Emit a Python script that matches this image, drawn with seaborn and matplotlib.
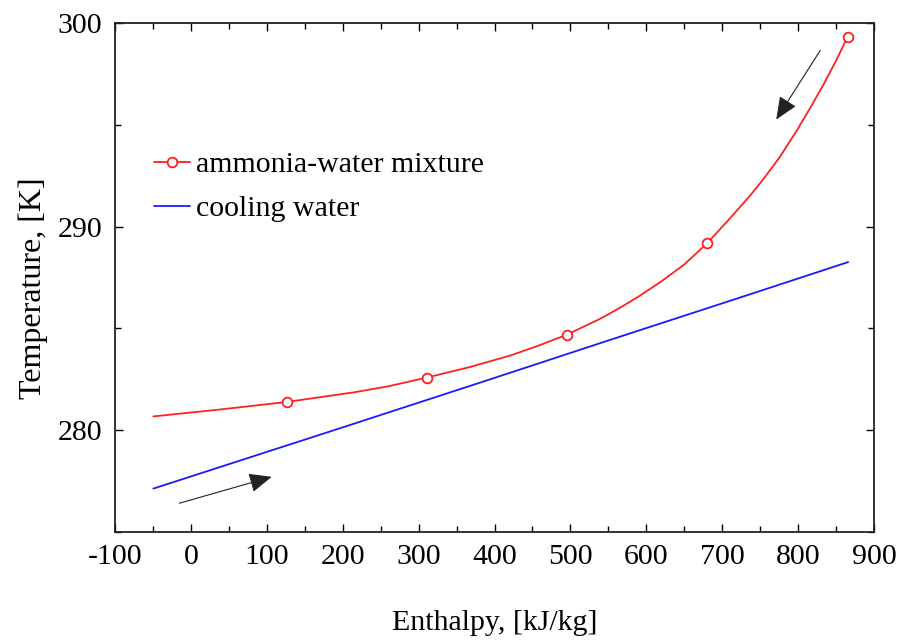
import matplotlib
matplotlib.use("Agg")
import matplotlib.pyplot as plt
import seaborn as sns
import pandas as pd

# ---- data ----
mix_h = [-49.5, 38.4, 126.3, 214.1, 260.0, 310.8, 365.7, 420.6, 457.9, 495.3,
         539.2, 565.6, 590.0, 618.3, 650.0, 680.3, 710.0, 737.0, 754.5, 776.0,
         798.5, 816.0, 833.6, 850.0, 865.2]
mix_t = [280.67, 281.01, 281.38, 281.85, 282.15, 282.58, 283.08, 283.66, 284.15, 284.69,
         285.47, 286.02, 286.57, 287.27, 288.14, 289.19, 290.40, 291.54, 292.35, 293.43,
         294.74, 295.84, 297.00, 298.16, 299.34]
mix_marker_idx = [2, 5, 9, 15, 24]

water_h = [-49.5, 196.6, 389.9, 548.0, 737.0, 866.0]
water_t = [277.12, 280.09, 282.44, 284.38, 286.68, 288.26]

labels = ["ammonia-water mixture", "cooling water"]
x_ticks = [-100, 0, 100, 200, 300, 400, 500, 600, 700, 800, 900]
y_ticks = [280, 290, 300]

# arrows (tail -> head) in data coordinates
arrow_water = ((-15.3, 276.40), (106.5, 277.70))
arrow_mix = ((829.2, 298.67), (771.2, 295.27))

# ---- plotting ----
sns.set_theme(style="ticks")
plt.rcParams["font.family"] = ["Liberation Serif", "DejaVu Serif"]
plt.rcParams["text.color"] = "black"
plt.rcParams["axes.labelcolor"] = "black"

fig = plt.figure(figsize=(9, 6.41), dpi=100)
ax = fig.add_axes([0.1278, 0.1705, 0.9711 - 0.1278, 0.9636 - 0.1705])

df_mix = pd.DataFrame({"H": mix_h, "T": mix_t})
df_w = pd.DataFrame({"H": water_h, "T": water_t})

sns.lineplot(data=df_mix, x="H", y="T", ax=ax, color="#ff2020", lw=1.3,
             marker="o", markevery=mix_marker_idx, markersize=7,
             markerfacecolor="white", markeredgecolor="#ff2020",
             markeredgewidth=1.3, label=labels[0], sort=False)
sns.lineplot(data=df_w, x="H", y="T", ax=ax, color="#1a1aff", lw=1.3,
             label=labels[1], sort=False)

for (tail, head) in (arrow_water, arrow_mix):
    ax.annotate("", xy=head, xytext=tail,
                arrowprops=dict(arrowstyle="-|>,head_length=1.4,head_width=0.6",
                                color="#222222", lw=0.8, shrinkA=0, shrinkB=0,
                                mutation_scale=10))

ax.set_xlim(-100, 900)
ax.set_ylim(275, 300)
ax.set_xticks(x_ticks)
ax.set_xticklabels([str(v) for v in x_ticks])
ax.set_yticks(y_ticks)
ax.set_yticklabels([str(v) for v in y_ticks])
ax.set_xticks([v + 50 for v in x_ticks[:-1]], minor=True)
ax.set_yticks([275, 285, 295], minor=True)

fs = 21.5
ax.tick_params(which="both", direction="in", top=True, right=True,
               labelsize=fs, colors="black", pad=9)
ax.tick_params(which="major", length=6, width=1.0)
ax.tick_params(which="minor", length=4, width=1.0)
for s in ax.spines.values():
    s.set_color("#222222")
    s.set_linewidth(1.3)

ax.set_xlabel("Enthalpy, [kJ/kg]", fontsize=fs, labelpad=29, color="black")
ax.set_ylabel("Temperature, [K]", fontsize=23, color="black")
ax.yaxis.set_label_coords(-0.088, 0.48)

leg = ax.legend(loc="upper left", bbox_to_anchor=(0.036, 0.772), frameon=False,
                fontsize=fs, handlelength=1.2, handletextpad=0.2,
                labelspacing=0.58, borderaxespad=0, numpoints=1)
for t in leg.get_texts():
    t.set_color("black")

fig.savefig("out.png", dpi=100, facecolor="white")
